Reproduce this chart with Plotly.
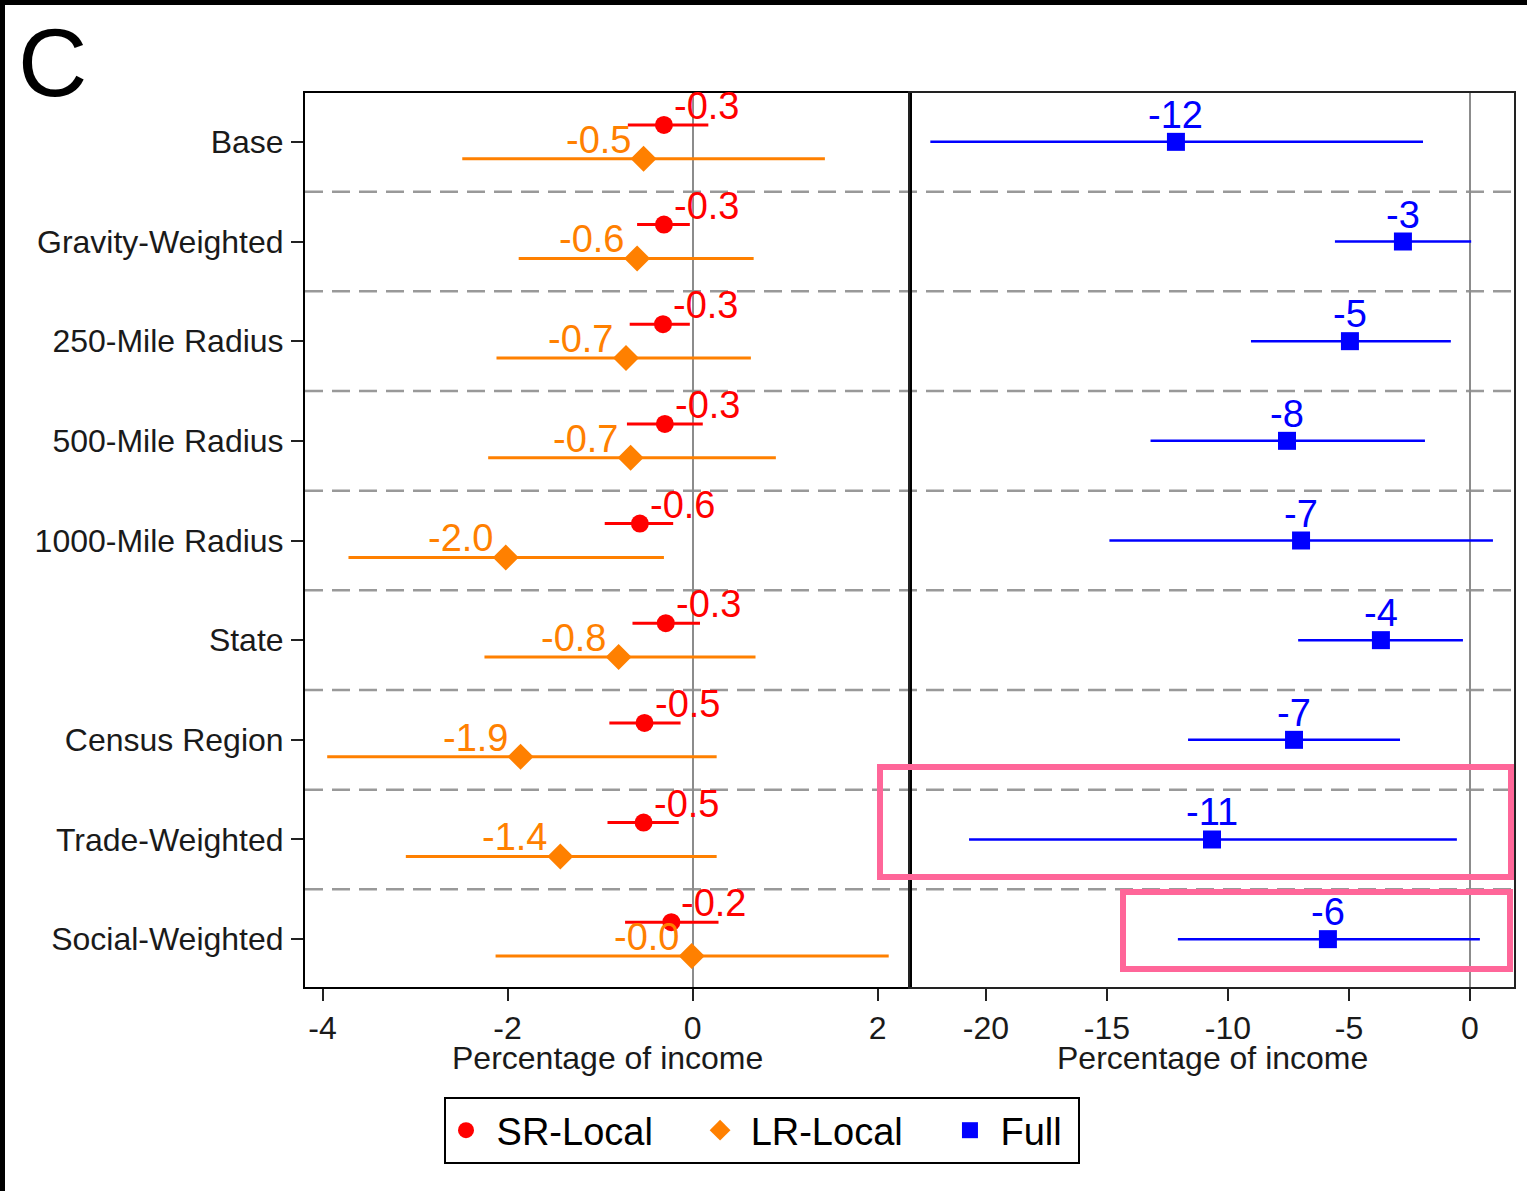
import plotly.graph_objects as go

# Specifications (rows, top to bottom)
categories = ["Base", "Gravity-Weighted", "250-Mile Radius", "500-Mile Radius",
              "1000-Mile Radius", "State", "Census Region", "Trade-Weighted",
              "Social-Weighted"]

# Short-run local effect (percentage of income) with 95% CI
sr_est = [-0.31, -0.31, -0.32, -0.30, -0.57, -0.29, -0.52, -0.53, -0.23]
sr_lo = [-0.70, -0.60, -0.68, -0.71, -0.95, -0.65, -0.90, -0.92, -0.73]
sr_hi = [0.17, -0.03, -0.03, 0.11, -0.21, 0.08, -0.13, -0.15, 0.28]

# Long-run local effect
lr_est = [-0.53, -0.60, -0.72, -0.67, -2.02, -0.80, -1.86, -1.43, -0.01]
lr_lo = [-2.49, -1.88, -2.12, -2.21, -3.72, -2.25, -3.95, -3.10, -2.13]
lr_hi = [1.43, 0.66, 0.63, 0.90, -0.31, 0.68, 0.26, 0.26, 2.12]

# Full effect
full_est = [-12.15, -2.77, -4.96, -7.56, -6.98, -3.68, -7.27, -10.66, -5.87]
full_lo = [-22.3, -5.58, -9.05, -13.2, -14.9, -7.10, -11.65, -20.7, -12.07]
full_hi = [-1.94, 0.05, -0.79, -1.86, 0.95, -0.29, -2.89, -0.54, 0.41]

left_ticks = [-4, -2, 0, 2]
right_ticks = [-20, -15, -10, -5, 0]
x_title = "Percentage of income"

RED = "#FF0000"
ORANGE = "#FF8000"
BLUE = "#0000FF"
FONT = "Liberation Sans, Arial, sans-serif"
W, H = 1527, 1191

rows = list(range(len(categories)))
sr_y = [r - 0.17 for r in rows]
lr_y = [r + 0.17 for r in rows]

fig = go.Figure()

fig.add_trace(go.Scatter(
    x=sr_est, y=sr_y, mode="markers", name="\u00a0SR-Local\u00a0\u00a0\u00a0\u00a0",
    marker=dict(symbol="circle", size=18, color=RED),
    error_x=dict(type="data", symmetric=False,
                 array=[h - e for h, e in zip(sr_hi, sr_est)],
                 arrayminus=[e - l for e, l in zip(sr_est, sr_lo)],
                 color=RED, thickness=3, width=0),
    xaxis="x", yaxis="y"))

fig.add_trace(go.Scatter(
    x=lr_est, y=lr_y, mode="markers", name="\u00a0LR-Local\u00a0\u00a0\u00a0\u00a0",
    marker=dict(symbol="diamond", size=20, color=ORANGE),
    error_x=dict(type="data", symmetric=False,
                 array=[h - e for h, e in zip(lr_hi, lr_est)],
                 arrayminus=[e - l for e, l in zip(lr_est, lr_lo)],
                 color=ORANGE, thickness=3, width=0),
    xaxis="x", yaxis="y"))

fig.add_trace(go.Scatter(
    x=full_est, y=rows, mode="markers", name="\u00a0Full\u00a0",
    marker=dict(symbol="square", size=18, color=BLUE),
    error_x=dict(type="data", symmetric=False,
                 array=[h - e for h, e in zip(full_hi, full_est)],
                 arrayminus=[e - l for e, l in zip(full_est, full_lo)],
                 color=BLUE, thickness=2.5, width=0),
    xaxis="x2", yaxis="y2"))

annotations = []
for i in rows:
    annotations.append(dict(
        x=sr_est[i], y=sr_y[i], xref="x", yref="y", text=f"{sr_est[i]:.1f}",
        showarrow=False, xanchor="left", yanchor="bottom", xshift=8, yshift=-4,
        font=dict(family=FONT, size=38, color=RED)))
    annotations.append(dict(
        x=lr_est[i], y=lr_y[i], xref="x", yref="y", text=f"{lr_est[i]:.1f}",
        showarrow=False, xanchor="right", yanchor="bottom", xshift=-11, yshift=-4,
        font=dict(family=FONT, size=38, color=ORANGE)))
    annotations.append(dict(
        x=full_est[i], y=rows[i], xref="x2", yref="y2", text=f"{full_est[i]:.0f}",
        showarrow=False, xanchor="center", yanchor="bottom", yshift=4,
        font=dict(family=FONT, size=38, color=BLUE)))

x1_dom = [305 / W, 910 / W]
x2_dom = [910 / W, 1514 / W]
y_dom = [1 - 987 / H, 1 - 93 / H]

axis_font = dict(family=FONT, size=32, color="#1a1a1a")

# Axis titles under each panel
for dom in (x1_dom, x2_dom):
    annotations.append(dict(
        x=(dom[0] + dom[1]) / 2, y=1 - 1058 / H, xref="paper", yref="paper",
        text=x_title, showarrow=False, xanchor="center", yanchor="middle",
        font=axis_font))

# Panel letter
annotations.append(dict(
    x=16 / W, y=1 - 63 / H, xref="paper", yref="paper", text="C",
    showarrow=False, xanchor="left", yanchor="middle",
    font=dict(family=FONT, size=96, color="black")))

shapes = []
# Dashed separators between specifications, spanning both panels
for i in range(len(categories) - 1):
    shapes.append(dict(
        type="line", xref="paper", yref="y", x0=x1_dom[0], x1=x2_dom[1],
        y0=i + 0.5, y1=i + 0.5, layer="between",
        line=dict(color="#999999", width=2.5, dash="18px,9px")))

# Highlight boxes around the last two full-effect estimates
PINK = "#FF6699"
shapes.append(dict(type="rect", xref="paper", yref="paper",
                   x0=880 / W, x1=1511 / W, y0=1 - 877 / H, y1=1 - 767 / H,
                   line=dict(color=PINK, width=6)))
shapes.append(dict(type="rect", xref="paper", yref="paper",
                   x0=1123 / W, x1=1510 / W, y0=1 - 969 / H, y1=1 - 892 / H,
                   line=dict(color=PINK, width=6)))

# Outer frame on the top and left edges
shapes.append(dict(type="rect", xref="paper", yref="paper",
                   x0=0, x1=5 / W, y0=0, y1=1, fillcolor="black", line=dict(width=0)))
shapes.append(dict(type="rect", xref="paper", yref="paper",
                   x0=0, x1=1, y0=1 - 5 / H, y1=1, fillcolor="black", line=dict(width=0)))

yrange = [8.48, -0.49]

fig.update_layout(
    width=W, height=H,
    margin=dict(l=0, r=0, t=0, b=0),
    paper_bgcolor="white", plot_bgcolor="white",
    font=dict(family=FONT, color="#1a1a1a"),
    showlegend=True,
    legend=dict(orientation="h", x=762 / W, y=1 - 1097 / H,
                xanchor="center", yanchor="top",
                bordercolor="black", borderwidth=2, bgcolor="white",
                font=dict(family=FONT, size=38, color="black")),
    xaxis=dict(domain=x1_dom, range=[-4.19, 2.35], tickvals=left_ticks,
               ticktext=[str(t) for t in left_ticks],
               ticks="outside", ticklen=12, tickwidth=2, tickcolor="#222",
               tickfont=axis_font, showgrid=False,
               zeroline=True, zerolinecolor="#8c8c8c", zerolinewidth=2,
               showline=True, mirror=True, linecolor="black", linewidth=2,
               anchor="y"),
    xaxis2=dict(domain=x2_dom, range=[-23.14, 1.82], tickvals=right_ticks,
                ticktext=[str(t) for t in right_ticks],
                ticks="outside", ticklen=12, tickwidth=2, tickcolor="#222",
                tickfont=axis_font, showgrid=False,
                zeroline=True, zerolinecolor="#8c8c8c", zerolinewidth=2,
                showline=True, mirror=True, linecolor="#222", linewidth=2,
                anchor="y2"),
    yaxis=dict(domain=y_dom, range=yrange, tickvals=rows, ticktext=categories,
               ticks="outside", ticklen=12, tickwidth=2, tickcolor="#222",
               tickfont=axis_font, ticklabelstandoff=1, showgrid=False,
               zeroline=False, showline=True, mirror=True,
               linecolor="black", linewidth=2, anchor="x"),
    yaxis2=dict(domain=y_dom, range=yrange, showticklabels=False, ticks="",
                showgrid=False, zeroline=False, showline=True, mirror=True,
                linecolor="#222", linewidth=2, anchor="x2", matches="y"),
    annotations=annotations,
    shapes=shapes,
)

fig.write_html("out.html")
